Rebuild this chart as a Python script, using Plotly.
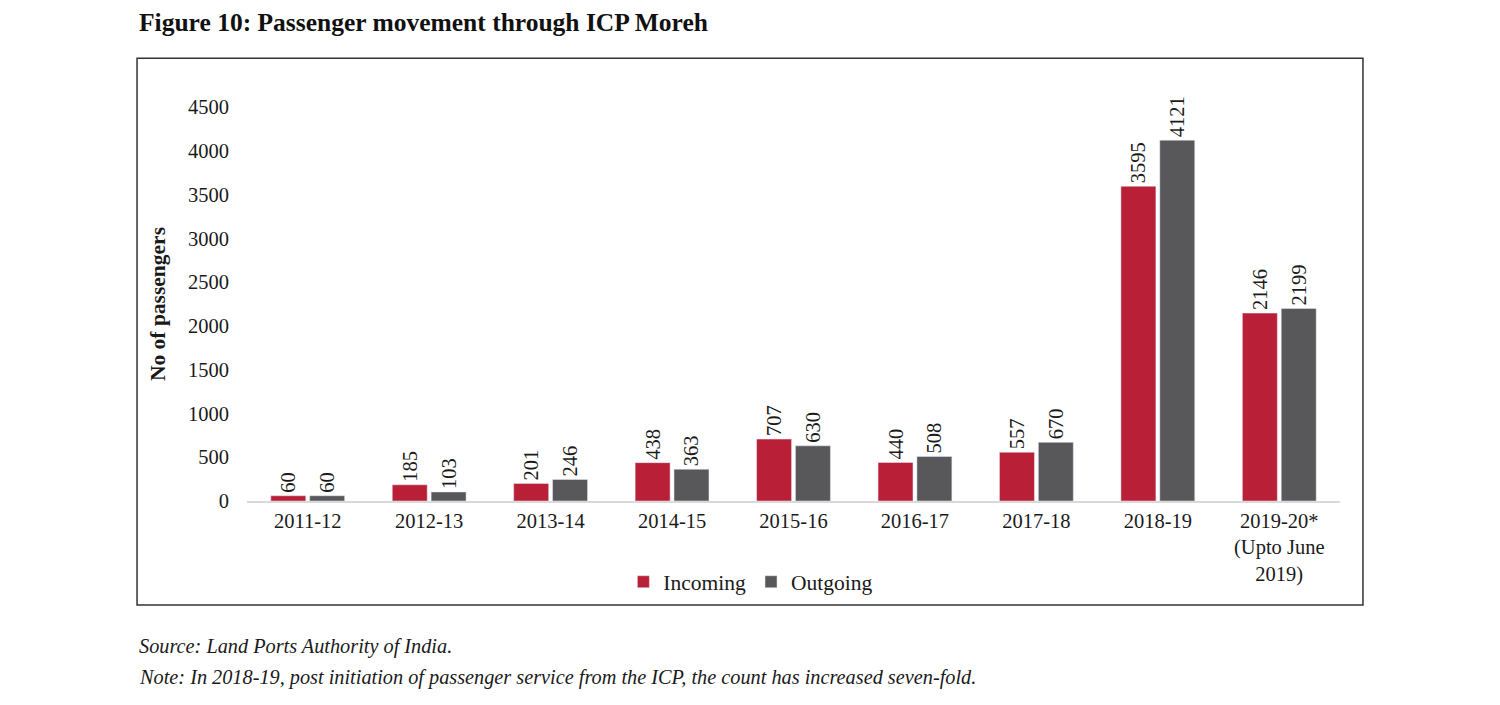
import plotly.graph_objects as go

years = ["2011-12", "2012-13", "2013-14", "2014-15", "2015-16", "2016-17",
         "2017-18", "2018-19", "2019-20*<br>(Upto June<br>2019)"]
incoming = [60, 185, 201, 438, 707, 440, 557, 3595, 2146]
outgoing = [60, 103, 246, 363, 630, 508, 670, 4121, 2199]
y_ticks = [0, 500, 1000, 1500, 2000, 2500, 3000, 3500, 4000, 4500]

serif = "Liberation Serif"

fig = go.Figure()
fig.add_trace(go.Bar(
    name="Incoming", x=years, y=incoming, marker_color="#B91F37",
    text=incoming, textposition="outside", textangle=-90, constraintext="none",
    textfont=dict(size=20.5, color="#1a1a1a"), cliponaxis=False,
))
fig.add_trace(go.Bar(
    name="Outgoing", x=years, y=outgoing, marker_color="#58585A",
    text=outgoing, textposition="outside", textangle=-90, constraintext="none",
    textfont=dict(size=20.5, color="#1a1a1a"), cliponaxis=False,
))

# page body adds 8px, so margins are shifted to compensate
fig.update_layout(
    width=1500, height=705,
    margin=dict(l=239, r=168, t=99, b=212),
    paper_bgcolor="white", plot_bgcolor="white",
    font=dict(family=serif, size=20, color="#1a1a1a"),
    barmode="group", bargap=0.36, bargroupgap=0.1,
    showlegend=True,
    legend=dict(orientation="h", x=0.461, xanchor="center", y=-0.205, yanchor="middle",
                font=dict(size=21.5), itemwidth=30, traceorder="normal"),
    xaxis=dict(type="category", showgrid=False, showline=True, linecolor="#D9D9D9",
               linewidth=2, ticks="", tickfont=dict(size=20.5)),
    yaxis=dict(range=[0, 4500], tickvals=y_ticks, showgrid=False, zeroline=False,
               showline=False, ticks="", tickfont=dict(size=20.5), ticklabelstandoff=17,
               title=dict(text="<b>No of passengers</b>", font=dict(size=21.5), standoff=16)),
)

# border round the chart
fig.add_shape(type="rect", xref="paper", yref="paper",
              x0=-0.1006, x1=1.021, y0=-0.264, y1=1.124,
              line=dict(color="#333333", width=1.5))

fig.add_annotation(text="<b>Figure 10: Passenger movement through ICP Moreh</b>",
                   xref="paper", yref="paper", x=-0.1006, y=1.215,
                   xanchor="left", yanchor="middle", showarrow=False,
                   font=dict(size=25.5, color="#111111"))
fig.add_annotation(text="<i>Source: Land Ports Authority of India.</i>",
                   xref="paper", yref="paper", x=-0.1006, y=-0.37,
                   xanchor="left", yanchor="middle", showarrow=False,
                   font=dict(size=20.3))
fig.add_annotation(text="<i>Note: In 2018-19, post initiation of passenger service from the ICP, the count has increased seven-fold.</i>",
                   xref="paper", yref="paper", x=-0.1006, y=-0.449,
                   xanchor="left", yanchor="middle", showarrow=False,
                   font=dict(size=20.3))

fig.write_html("out.html")
